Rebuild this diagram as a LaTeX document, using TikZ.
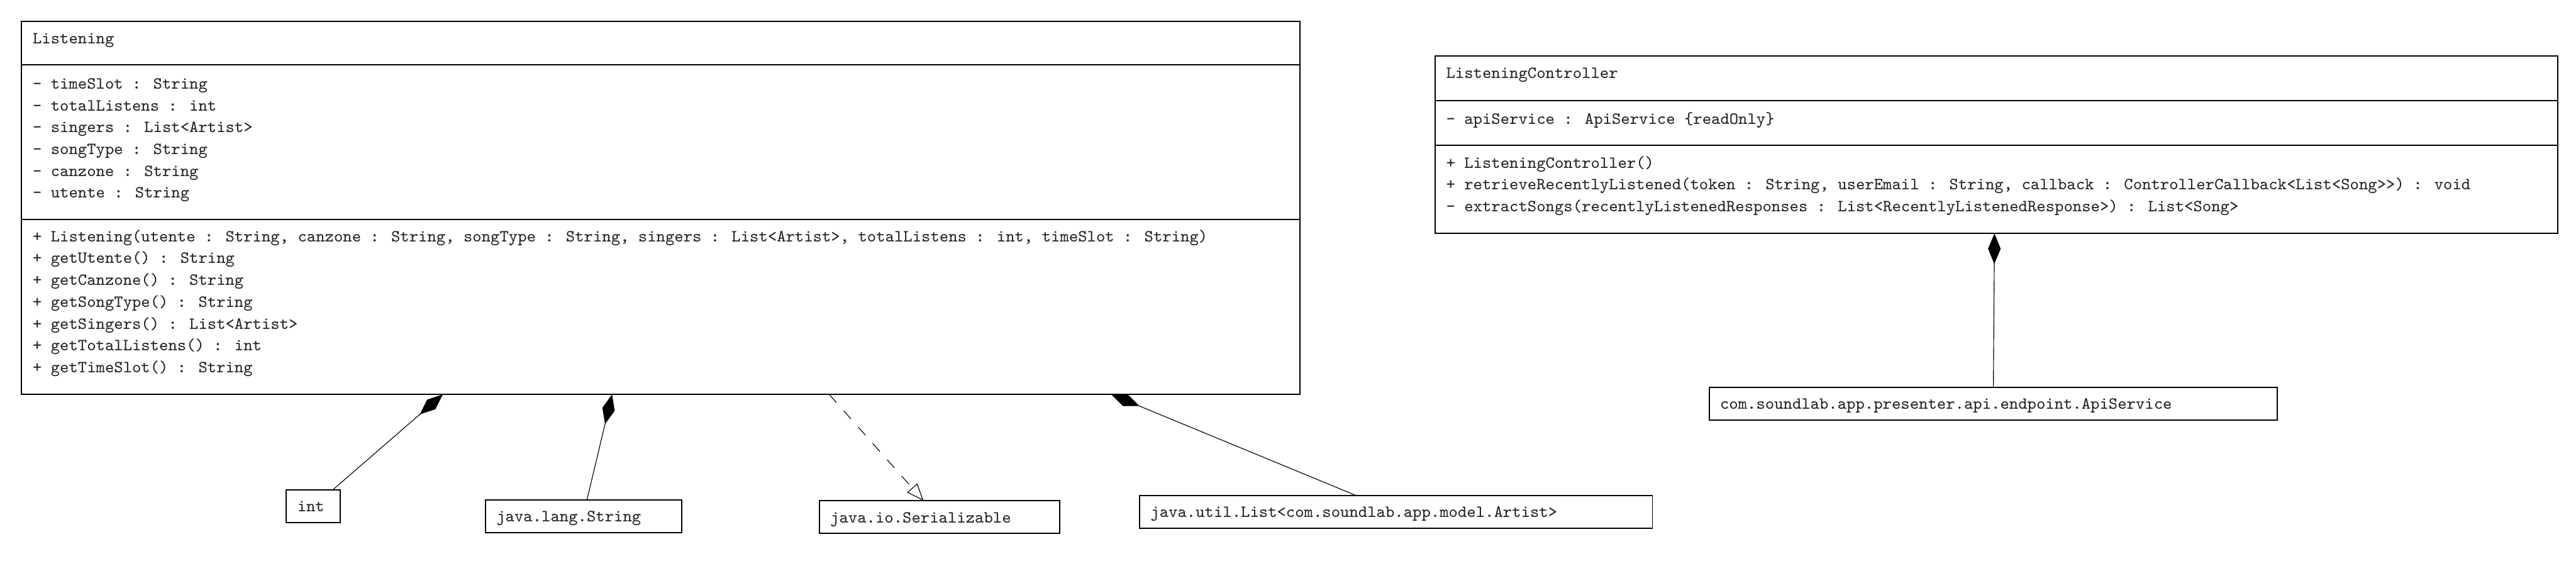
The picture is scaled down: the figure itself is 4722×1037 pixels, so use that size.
\documentclass[tikz,border=0pt]{standalone}
\usepackage{fontspec}
\usetikzlibrary{arrows.meta}
\newcommand\umlfont{\ttfamily\fontsize{7.8pt}{9pt}\selectfont}
\begin{document}
\begin{tikzpicture}[x=0.25pt,y=-0.25pt,
  boxline/.style={draw=black,line width=0.55pt},
  umlbox/.style={boxline,fill=white,inner sep=0pt,outer sep=0pt,anchor=north west},
  umltext/.style={anchor=base west,inner sep=0pt,outer sep=0pt,font=\umlfont,text=black!85},
  typebox/.style={umlbox,font=\umlfont,text=black!85,align=left,
    inner xsep=5pt,inner ysep=0pt,text height=7.5pt,text depth=2.5pt,minimum height=15pt},
  conn/.style={draw=black,line width=0.33pt},
  composition/.style={conn,-{Diamond[length=14pt,width=5.8pt]}},
  realization/.style={conn,dash pattern=on 5pt off 5pt,-{Triangle[open,length=7.9pt,width=6.2pt]}}
]
\useasboundingbox (0,0) rectangle (4722,1037);

% type boxes
\node[typebox,text width=14.75pt] (int) at (525,898) {int};
\node[typebox,text width=80pt] (str) at (890,916) {java.lang.String};
\node[typebox,text width=100pt] (ser) at (1502,918) {java.io.Serializable};
\node[typebox,text width=225pt] (lst) at (2089,908) {java.util.List<com.soundlab.app.model.Artist>};
\node[typebox,text width=250.25pt] (api) at (3133,710) {com.soundlab.app.presenter.api.endpoint.ApiService};

% connectors (drawn before the class boxes so the boxes cover them)
\draw[composition] (int.north -| 610,0) -- (811.7,723) coordinate (Lint);
\draw[composition] (str.north -| 1076,0) -- (1122,723) coordinate (Lstr);
\draw[realization] (1520,723) coordinate (Lser) -- (ser.north -| 1693,0);
\draw[composition] (lst.north -| 2485,0) -- (2037,723) coordinate (Llst);
\draw[composition] (api.north -| 3654,0) -- (3656,428) coordinate (Capi);

% Listening class
\node[umlbox,minimum width=586pt,minimum height=171pt] (L) at (39,39) {};
\draw[boxline] (L.west |- 0,119) -- (L.east |- 0,119);
\draw[boxline] (L.west |- 0,402) -- (L.east |- 0,402);
\node[umltext] (Lname) at (60,80) {Listening};
\node[umltext] (La1) at (60,163) {- timeSlot : String};
\node[umltext] (La2) at (60,203) {- totalListens : int};
\node[umltext] (La3) at (60,243) {- singers : List<Artist>};
\node[umltext] (La4) at (60,283) {- songType : String};
\node[umltext] (La5) at (60,323) {- canzone : String};
\node[umltext] (La6) at (60,363) {- utente : String};
\node[umltext] (Lm1) at (60,443) {+ Listening(utente : String, canzone : String, songType : String, singers : List<Artist>, totalListens : int, timeSlot : String)};
\node[umltext] (Lm2) at (60,483) {+ getUtente() : String};
\node[umltext] (Lm3) at (60,523) {+ getCanzone() : String};
\node[umltext] (Lm4) at (60,563) {+ getSongType() : String};
\node[umltext] (Lm5) at (60,603) {+ getSingers() : List<Artist>};
\node[umltext] (Lm6) at (60,643) {+ getTotalListens() : int};
\node[umltext] (Lm7) at (60,683) {+ getTimeSlot() : String};

% ListeningController class
\node[umlbox,minimum width=514.25pt,minimum height=81.25pt] (C) at (2631,103) {};
\draw[boxline] (C.west |- 0,184) -- (C.east |- 0,184);
\draw[boxline] (C.west |- 0,266) -- (C.east |- 0,266);
\node[umltext] (Cname) at (2651,143) {ListeningController};
\node[umltext] (Ca1) at (2651,228) {- apiService : ApiService \{readOnly\}};
\node[umltext] (Cm1) at (2651,308) {+ ListeningController()};
\node[umltext] (Cm2) at (2651,348) {+ retrieveRecentlyListened(token : String, userEmail : String, callback : ControllerCallback<List<Song>>) : void};
\node[umltext] (Cm3) at (2651,388) {- extractSongs(recentlyListenedResponses : List<RecentlyListenedResponse>) : List<Song>};
\end{tikzpicture}
\end{document}
